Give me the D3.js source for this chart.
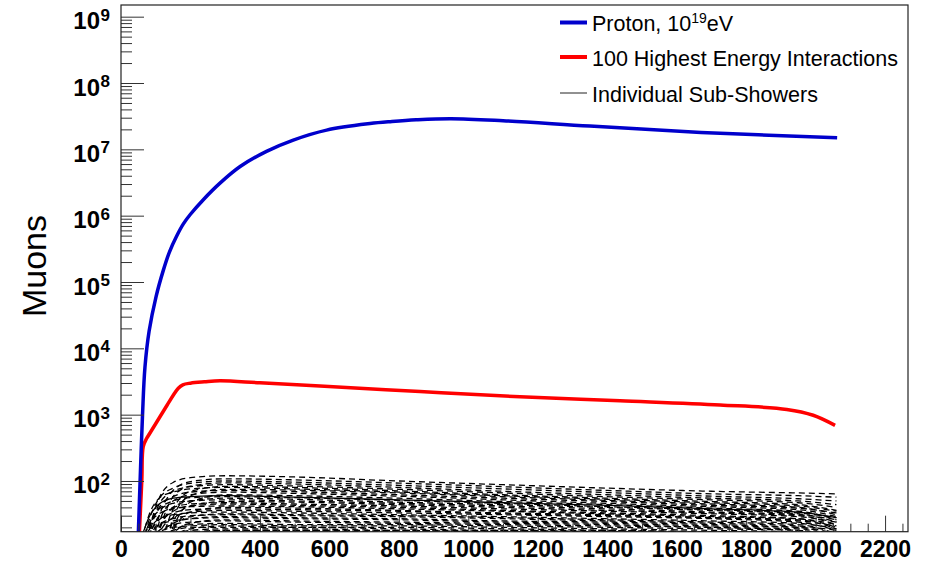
<!DOCTYPE html>
<html>
<head>
<meta charset="utf-8">
<script src="https://cdn.jsdelivr.net/npm/d3@7"></script>
<style>
  body { margin: 0; background: #fff; }
  text { font-family: "Liberation Sans", Arial, Helvetica, sans-serif; }
</style>
</head>
<body>
<svg id="chart" width="926" height="564"></svg>
<script>
// ---- data ----
var protonX = [50, 55, 62, 69, 81, 101, 122, 140, 160, 180, 200, 237, 285, 343, 419, 496, 592, 717, 780, 850, 950, 1100, 1350, 1670, 2062];
var protonMuons = [17, 100, 1000, 5200, 18200, 60300, 151000, 288000, 490000, 759000, 1.05e6, 1.74e6, 3.09e6, 5.5e6, 9.33e6, 1.38e7, 1.95e7, 2.45e7, 2.63e7, 2.79e7, 2.9e7, 2.7e7, 2.24e7, 1.8e7, 1.5e7];

var highestX = [53, 60, 64, 74, 83, 110, 133, 150, 165, 178, 200, 240, 285, 400, 573, 861, 1149, 1437, 1725, 1917, 1993, 2056];
var highestMuons = [17, 105, 330, 440, 525, 890, 1400, 1950, 2510, 2820, 2985, 3125, 3240, 3020, 2700, 2230, 1860, 1620, 1400, 1200, 980, 690];

// sub-showers, all sampled on the same x grid
var subX = [55, 80, 110, 150, 200, 300, 500, 800, 1100, 1400, 1700, 1950, 2060];
var subShowers = [
  [5, 18, 55, 95, 112, 120, 115, 100, 88, 78, 70, 66, 64],
  [5, 8, 30, 72, 98, 108, 104, 93, 82, 72, 64, 60, 57],
  [8, 25, 55, 78, 92, 100, 96, 86, 76, 67, 59, 54, 50],
  [5, 5, 18, 58, 84, 94, 90, 80, 70, 62, 55, 50, 44],
  [5, 15, 45, 70, 82, 88, 84, 75, 66, 58, 52, 47, 40],
  [5, 5, 10, 38, 70, 83, 80, 71, 62, 55, 49, 44, 36],
  [10, 30, 55, 68, 76, 80, 76, 68, 60, 53, 47, 42, 35],
  [5, 5, 5, 28, 60, 75, 73, 66, 58, 51, 45, 40, 31],
  [5, 18, 40, 58, 68, 72, 69, 62, 55, 49, 43, 39, 33],
  [5, 5, 24, 50, 62, 68, 65, 59, 52, 46, 41, 37, 29],
  [12, 28, 45, 55, 58, 60, 57, 52, 47, 43, 38, 34, 28],
  [5, 5, 5, 20, 48, 62, 60, 55, 49, 44, 39, 35, 26],
  [5, 20, 38, 50, 56, 58, 56, 51, 46, 41, 37, 33, 28],
  [5, 5, 18, 40, 50, 55, 53, 48, 44, 40, 36, 32, 24],
  [8, 22, 36, 46, 50, 52, 50, 46, 42, 38, 34, 31, 26],
  [5, 5, 5, 25, 42, 49, 48, 44, 40, 36, 33, 30, 22],
  [5, 14, 30, 40, 45, 47, 45, 42, 38, 35, 32, 29, 24],
  [5, 5, 20, 35, 42, 45, 43, 40, 36, 33, 30, 27, 20],
  [10, 22, 32, 38, 41, 42, 41, 38, 35, 32, 29, 27, 22],
  [5, 5, 5, 18, 34, 40, 39, 36, 33, 31, 28, 26, 19],
  [5, 15, 26, 33, 37, 38, 37, 35, 32, 30, 28, 25, 21],
  [5, 5, 16, 28, 34, 36, 35, 33, 31, 29, 27, 24, 18],
  [9, 18, 27, 31, 33, 34, 33, 31, 29, 27, 25, 23, 19],
  [5, 5, 5, 20, 29, 32, 31, 30, 28, 26, 24, 22, 16],
  [5, 14, 22, 27, 30, 31, 30, 29, 27, 25, 23, 21, 18],
  [5, 5, 14, 23, 27, 29, 28, 27, 25, 24, 22, 20, 15],
  [8, 16, 22, 25, 27, 28, 27, 26, 24, 23, 21, 20, 16],
  [5, 5, 5, 16, 23, 26, 25, 24, 23, 22, 20, 19, 14],
  [5, 12, 18, 22, 24, 25, 24, 23, 22, 21, 20, 18, 15],
  [5, 5, 12, 18, 22, 23, 22, 22, 21, 20, 19, 18, 13],
  [6, 13, 17, 20, 21, 22, 21, 21, 20, 19, 18, 17, 14],
  [5, 5, 5, 14, 19, 21, 20, 20, 19, 18, 17, 16, 12],
  [5, 10, 15, 18, 20, 20, 20, 19, 18, 18, 17, 16, 13],
  [5, 5, 10, 15, 18, 19, 19, 18, 18, 17, 16, 15, 12],
  [5, 8, 13, 16, 17, 18, 18, 18, 17, 17, 16, 15, 12],
  [5, 5, 5, 12, 16, 18, 18, 17, 17, 16, 15, 14, 11]
];
var solidShower = 10; // this one looks drawn solid

var xTickLabels = [0, 200, 400, 600, 800, 1000, 1200, 1400, 1600, 1800, 2000, 2200];
var yDecades = [1e2, 1e3, 1e4, 1e5, 1e6, 1e7, 1e8, 1e9];
var legendLabels = ["Proton, 10", "100 Highest Energy Interactions", "Individual Sub-Showers"];

// ---- layout ----
var frame = { left: 121, right: 908, top: 5, bottom: 531.7 };
var svg = d3.select('#chart');

var x = d3.scaleLinear().domain([0, 2266]).range([frame.left, frame.right]);
var y = d3.scaleLog().domain([17.2, 1.5e9]).range([frame.bottom, frame.top]);

svg.append('clipPath').attr('id', 'plotclip')
  .append('rect')
  .attr('x', frame.left).attr('y', frame.top)
  .attr('width', frame.right - frame.left)
  .attr('height', frame.bottom - frame.top);

var plot = svg.append('g').attr('clip-path', 'url(#plotclip)');

var line = d3.line()
  .x(function(d) { return x(d[0]); })
  .y(function(d) { return y(d[1]); })
  .curve(d3.curveMonotoneX);

var smoothLine = d3.line()
  .x(function(d) { return x(d[0]); })
  .y(function(d) { return y(d[1]); })
  .curve(d3.curveCatmullRom.alpha(0.5));

// sub-showers (dashed)
plot.selectAll('path.sub')
  .data(subShowers)
  .enter()
  .append('path')
  .attr('class', 'sub')
  .attr('d', function(vals) {
    return line(vals.map(function(v, i) { return [subX[i], v]; }));
  })
  .attr('fill', 'none')
  .attr('stroke', '#000')
  .attr('stroke-width', 1.3)
  .attr('stroke-dasharray', function(d, i) { return i === solidShower ? null : '6,4'; });

// 100 highest energy interactions
plot.append('path')
  .attr('d', smoothLine(highestX.map(function(v, i) { return [v, highestMuons[i]]; })))
  .attr('fill', 'none')
  .attr('stroke', '#ff0000')
  .attr('stroke-width', 3.5);

// proton shower
plot.append('path')
  .attr('d', smoothLine(protonX.map(function(v, i) { return [v, protonMuons[i]]; })))
  .attr('fill', 'none')
  .attr('stroke', '#0000cc')
  .attr('stroke-width', 3.5);

// ---- axes ----
var xMinor = d3.range(50, 2266, 50).filter(function(v) { return v % 200 !== 0; });

var gx = svg.append('g').attr('transform', 'translate(0,' + frame.bottom + ')');
gx.call(d3.axisBottom(x).tickValues(xMinor).tickSize(-8).tickSizeOuter(0).tickFormat(''));
var gxMajor = svg.append('g').attr('transform', 'translate(0,' + frame.bottom + ')');
gxMajor.call(d3.axisBottom(x).tickValues(xTickLabels).tickSize(-16).tickSizeOuter(0)
  .tickPadding(9).tickFormat(d3.format('d')));
gxMajor.selectAll('text')
  .attr('font-size', 23).attr('font-weight', 'bold').attr('fill', '#000')
  .style('font-family', '"Liberation Sans", Arial, sans-serif');

var yMinor = [];
[1, 10, 100, 1e3, 1e4, 1e5, 1e6, 1e7, 1e8].forEach(function(dec) {
  for (var k = 2; k <= 9; k++) {
    var v = k * dec;
    if (v > 17.2 && v < 1.5e9) yMinor.push(v);
  }
});

var gy = svg.append('g').attr('transform', 'translate(' + frame.left + ',0)');
gy.call(d3.axisLeft(y).tickValues(yMinor).tickSize(-11).tickSizeOuter(0).tickFormat(''));
var gyMajor = svg.append('g').attr('transform', 'translate(' + frame.left + ',0)');
gyMajor.call(d3.axisLeft(y).tickValues(yDecades).tickSize(-23).tickSizeOuter(0).tickFormat(''));

svg.selectAll('.domain').remove();
svg.selectAll('.tick line').attr('stroke', '#333').attr('stroke-width', 1);

// power-of-ten labels
var ylab = svg.append('g');
ylab.selectAll('text.base')
  .data(yDecades).enter()
  .append('text')
  .attr('x', 100)
  .attr('y', function(d) { return y(d) + 12.5; })
  .attr('text-anchor', 'end')
  .attr('font-size', 24).attr('font-weight', 'bold')
  .text('10');
ylab.selectAll('text.exp')
  .data(yDecades).enter()
  .append('text')
  .attr('x', 100.5)
  .attr('y', function(d) { return y(d) + 4; })
  .attr('font-size', 17).attr('font-weight', 'bold')
  .text(function(d) { return Math.round(Math.log10(d)); });

// axis title
svg.append('text')
  .attr('transform', 'translate(46,266) rotate(-90)')
  .attr('text-anchor', 'middle')
  .attr('font-size', 34)
  .text('Muons');

// frame
svg.append('rect')
  .attr('x', frame.left).attr('y', frame.top)
  .attr('width', frame.right - frame.left)
  .attr('height', frame.bottom - frame.top)
  .attr('fill', 'none')
  .attr('stroke', '#222')
  .attr('stroke-width', 1.2);

// ---- legend ----
var legendStyle = [
  { color: '#0000cc', width: 4, y: 22.5 },
  { color: '#ff0000', width: 4, y: 57 },
  { color: '#222', width: 1, y: 93 }
];
var legend = svg.append('g');
legendStyle.forEach(function(s, i) {
  legend.append('line')
    .attr('x1', 560).attr('x2', 587)
    .attr('y1', s.y).attr('y2', s.y)
    .attr('stroke', s.color).attr('stroke-width', s.width);
  var t = legend.append('text')
    .attr('x', 592).attr('y', s.y + 8.5)
    .attr('font-size', 21.5)
    .text(legendLabels[i]);
  if (i === 0) {
    t.append('tspan').attr('font-size', 14).attr('dy', -8.5).text('19');
    t.append('tspan').attr('dy', 8.5).text('eV');
  }
});
</script>
</body>
</html>
